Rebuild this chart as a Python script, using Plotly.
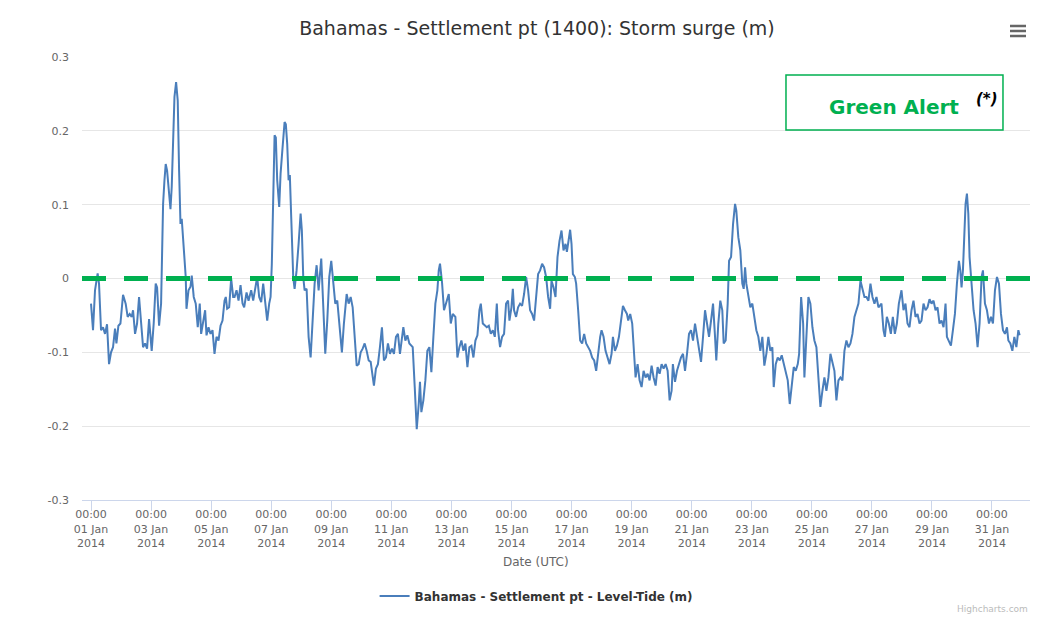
import pandas as pd
import plotly.graph_objects as go

# hours since 2014-01-01 00:00 UTC, storm surge (m)
hours = [
    0, 1.6, 3.2, 5.3, 6.4, 8, 9.6, 11.2, 12.8, 14.4, 16, 17.6, 19.2, 20.3, 21.9, 23.5,
    25.6, 27.7, 29.3, 30.9, 32.5, 33.6, 35.2, 36.8, 38.4, 40, 41.6, 43.2, 44.8, 46.4, 48.5,
    50.1, 51.7, 52.8, 54.4, 56, 57.6, 58.7, 59.7, 60.8, 61.9, 63.5, 64.5, 65.6, 66.7, 68,
    69.3, 70.4, 71.5, 72.5, 73.6, 74.7, 75.7, 76.3, 77.9, 79.5, 80.5, 82.1, 83.7, 85.3,
    86.9, 88, 89.6, 91.2, 92.3, 93.9, 95.5, 97.1, 98.7, 100.3, 101.9, 103.5, 105.1, 106.7,
    107.7, 108.8, 110.4, 112, 113.6, 114.7, 116.3, 117.9, 119.5, 121.1, 122.4,
    124.3, 125.9, 128, 129.6, 131.2, 132.8, 134.4, 136, 137.6, 139.2, 140.8, 142.4, 143.5,
    144.5, 145.6, 146.7, 147.7, 148.8, 150.4, 151.5, 153.1, 154.7, 155.7, 156.8, 157.9,
    158.9, 160, 161.6, 162.7, 164.3, 165.9, 167.5, 168.5, 169.6, 170.7, 172.3, 173.9,
    175.5, 177.1, 178.7, 180.3, 181.9, 184, 185.6, 187.2, 188.8, 190.4, 192, 193.6, 195.2,
    196.8, 198.4, 200.5, 202.1, 204.3, 205.9, 207.5, 209.1, 210.7, 212.3, 213.9, 215.5,
    217.1, 218.7, 220.3, 221.9, 223.5, 225.1, 226.1, 227.7, 229.3, 230.9, 232.5, 234.1,
    235.7, 237.3, 238.9, 240.5, 242.1, 243.7, 245.3, 246.9, 248.5,
    249.6, 251.2, 252.8, 254.4, 257.1, 258.7, 260.3, 261.9, 262.9, 264, 265.6, 267.2,
    268.8, 270.4, 272, 273.6, 275.2, 276.8, 277.9, 278.9, 280.5, 282.1, 283.7, 285.9,
    287.5, 289.1, 291.2, 292.8, 294.4, 296, 297.6, 299.2, 300.8, 302.4, 304, 305.6, 307.2,
    308.8, 310.4, 311.5, 313.1, 314.7, 316.3, 317.9, 319.5, 321.1, 322.7, 324.3, 325.3,
    326.9, 328.5, 330.1, 331.7, 333.3, 334.4, 336, 337.1, 338.1, 339.7, 341.3, 342.9,
    344.5, 346.1, 347.7, 349.3, 350.9, 352.5, 354.1, 355.7, 357.3, 358.9, 360.5, 362.1,
    363.7, 365.3, 366.9, 368, 369.6, 371.2, 372.8, 374.4,
    376, 377.6, 379.2, 380.3, 381.3, 382.9, 384, 385.1, 386.7, 387.7, 389.3, 390.9, 392.5,
    394.1, 395.7, 397.3, 398.9, 400.5, 402.1, 403.7, 405.3, 406.9, 408, 409.6, 411.2,
    412.8, 414.4, 416, 417.1, 418.7, 420.3, 421.9, 423.5, 425.1, 426.7, 428.3, 429.3,
    430.9, 432.5, 434.1, 435.2, 436.8, 438.4, 440, 441.6, 443.2, 444.8, 446.4, 448, 449.6,
    451.2, 452.8, 454.4, 456, 457.6, 459.2, 460.8, 462.4, 464, 465, 466.7, 468.3, 469.9,
    471.5, 473.1, 474.7, 476.3, 477.9, 479.5, 481.1, 482.7, 484.3, 485.9, 487.5, 489.1,
    490.7, 492.3, 493.9, 495.5, 497.1, 498.7, 499.7, 501.3, 502.9, 504.5,
    505.6, 507.2, 508.8, 509.9, 511.5, 513.1, 514.7, 515.7, 517.3, 518.9, 520.5, 521.6,
    522.7, 523.7, 525.3, 526.9, 528.5, 530.1, 531.7, 533.3, 534.9, 536.5, 538.1, 539.7,
    541.3, 542.9, 544.5, 545.6, 547.2, 548.8, 550.4, 552, 553.6, 555.2, 556.8, 558.4, 560,
    561.6, 563.2, 564.8, 565.9, 567.5, 569.1, 570.1, 571.7, 573.3, 574.9, 576.5, 578.1,
    579.7, 581.3, 582.9, 584.5, 586.1, 587.7, 589.3, 590.9, 592.5, 594.1, 595.7, 597.3,
    598.9, 600.5, 602.1, 603.7, 605.3, 606.9, 608.5, 610.1, 611.7, 613.3, 614.9, 616.5,
    618.1, 619.7, 621.3, 622.9, 624.5, 626.1, 627.7, 629.3,
    631.7, 633.3, 634.4, 636, 637.6, 639.2, 640.8, 642.4, 644, 645.6, 647.7, 649.3, 650.9,
    652.5, 654.1, 655.7, 657.3, 658.9, 660.5, 662.1, 663.7, 665.3, 666.9, 668.5, 670.1,
    671.7, 673.3, 674.9, 676.5, 678.1, 679.7, 681.3, 682.9, 684, 685.6, 687.2, 688.8,
    690.4, 692, 693.6, 694.7, 695.7, 696.8, 697.9, 698.9, 700, 701.1, 702.1, 703.7, 705.3,
    706.9, 708.5, 710.1, 711.7, 712.8, 714.4, 716, 717.6, 719.2, 720.8, 722.4, 724, 725.6,
    727.2, 728.8, 730.4, 732, 733.1, 734.7, 736.3, 737.9, 739.5, 741.1, 742.1,
]
surge = [
    -0.034, -0.070, -0.016, 0.007, -0.007, -0.070, -0.066, -0.075, -0.062, -0.116, -0.100,
    -0.093, -0.068, -0.088, -0.064, -0.061,
    -0.022, -0.034, -0.052, -0.048, -0.052, -0.043, -0.075, -0.061, -0.025, -0.061, -0.093,
    -0.088, -0.095, -0.055, -0.098,
    -0.061, -0.007, -0.012, -0.064, -0.034, 0.101, 0.133, 0.155, 0.146, 0.128, 0.094, 0.124,
    0.191, 0.246, 0.266,
    0.241, 0.146, 0.074, 0.081, 0.056, 0.020, 0.002, -0.041, -0.016, -0.011, 0.004, -0.025,
    -0.034, -0.066,
    -0.034, -0.075, -0.061, -0.043, -0.077, -0.066, -0.075, -0.070, -0.102, -0.079, -0.084,
    -0.064, -0.057, -0.030,
    -0.025, -0.041, -0.039, 0.000, -0.025, -0.025, -0.016, -0.030, -0.009, -0.034, -0.039,
    -0.019, -0.030, -0.016, -0.030, -0.016, 0.002, -0.025, -0.032, -0.007, -0.034, -0.057,
    -0.034, -0.025,
    0.020, 0.101, 0.194, 0.191, 0.133, 0.097, 0.142, 0.178, 0.212, 0.209, 0.182, 0.133,
    0.140, 0.083, 0.002, -0.014, 0.011, 0.047, 0.088, 0.065, 0.002, -0.016, -0.014, -0.079,
    -0.107, -0.057, -0.007, 0.018, -0.016, 0.027, -0.034, -0.102, -0.057, 0.002, 0.024,
    -0.007, -0.034,
    -0.030, -0.061, -0.100, -0.061, -0.021, -0.034, -0.025, -0.039, -0.075, -0.118, -0.116,
    -0.100,
    -0.095, -0.088, -0.098, -0.111, -0.113, -0.129, -0.145, -0.122, -0.116, -0.093, -0.066,
    -0.111,
    -0.107, -0.088, -0.102, -0.095, -0.102, -0.079, -0.075, -0.102, -0.079,
    -0.066, -0.084, -0.077, -0.088, -0.093, -0.147, -0.204, -0.170, -0.140, -0.181, -0.165,
    -0.138,
    -0.098, -0.093, -0.127, -0.079, -0.034, -0.016, 0.011, 0.020, -0.005, -0.043, -0.032,
    -0.021,
    -0.061, -0.048, -0.052, -0.107, -0.093, -0.084, -0.098, -0.088, -0.120, -0.093, -0.091,
    -0.107, -0.084,
    -0.077, -0.043, -0.034, -0.061, -0.064, -0.066, -0.064, -0.075, -0.070, -0.079, -0.034,
    -0.070,
    -0.093, -0.079, -0.075, -0.034, -0.030, -0.057, -0.039, -0.014, -0.043, -0.052, -0.039,
    -0.034,
    -0.037, -0.021, 0.002, -0.016, -0.043, -0.048, -0.057, -0.025, 0.006, 0.011, 0.020,
    0.015,
    0.002, -0.025, -0.041, -0.003, -0.012, -0.025, 0.029, 0.051,
    0.065, 0.038, 0.047, 0.036, 0.047, 0.066, 0.047, 0.006, 0.002, -0.007, -0.043, -0.084,
    -0.088,
    -0.075, -0.088, -0.093, -0.098, -0.107, -0.111, -0.125, -0.098, -0.079, -0.070, -0.079,
    -0.098,
    -0.107, -0.116, -0.102, -0.079, -0.098, -0.091, -0.079, -0.057, -0.037, -0.043, -0.048,
    -0.057,
    -0.048, -0.061, -0.107, -0.134, -0.116, -0.138, -0.147, -0.125, -0.134, -0.129, -0.138,
    -0.118, -0.134,
    -0.145, -0.120, -0.129, -0.116, -0.122, -0.116, -0.125, -0.165, -0.152, -0.116, -0.140,
    -0.125, -0.116,
    -0.107, -0.102, -0.125, -0.102, -0.075, -0.070, -0.084, -0.061, -0.079, -0.093, -0.113,
    -0.079,
    -0.043, -0.061, -0.079, -0.057, -0.034, -0.079, -0.111, -0.061, -0.030, -0.043,
    -0.088, -0.084, -0.034, 0.024, 0.029, 0.074, 0.101, 0.092, 0.056, 0.038, -0.007, -0.014,
    0.015, -0.007, -0.021, -0.039, -0.034, -0.052, -0.070, -0.079, -0.098, -0.079, -0.118,
    -0.102,
    -0.079, -0.098, -0.093, -0.147, -0.116, -0.107, -0.111, -0.104, -0.116, -0.125, -0.138,
    -0.170, -0.147,
    -0.120, -0.125, -0.116, -0.102, -0.025, -0.061, -0.134, -0.079, -0.025, -0.034, -0.066,
    -0.084,
    -0.093, -0.134, -0.174, -0.152, -0.134, -0.152, -0.134, -0.102, -0.116, -0.125, -0.165,
    -0.138,
    -0.134, -0.138, -0.098, -0.084, -0.093, -0.088, -0.075, -0.052, -0.043, -0.034, -0.003,
    -0.016,
    -0.025, -0.025, -0.030, -0.007, -0.025, -0.034, -0.025, -0.039,
    -0.034, -0.070, -0.079, -0.052, -0.061, -0.075, -0.052, -0.075, -0.061, -0.034, -0.016,
    -0.043, -0.034,
    -0.061, -0.066, -0.043, -0.030, -0.052, -0.048, -0.061, -0.057, -0.034, -0.043, -0.039,
    -0.028,
    -0.034, -0.030, -0.043, -0.039, -0.061, -0.057, -0.066, -0.034, -0.079, -0.086, -0.091,
    -0.070,
    -0.048, -0.007, 0.024, 0.011, -0.012, 0.011, 0.065, 0.101, 0.115, 0.088, 0.029, -0.012,
    -0.043,
    -0.061, -0.093, -0.061, 0.002, 0.011, -0.034, -0.043, -0.061, -0.052, -0.061, -0.016,
    0.002, -0.007,
    -0.048, -0.070, -0.075, -0.066, -0.084, -0.088, -0.098, -0.079, -0.093, -0.070, -0.077,
]

ytick_vals = [0.3, 0.2, 0.1, 0, -0.1, -0.2, -0.3]
ytick_labels = ['0.3', '0.2', '0.1', '0', '-0.1', '-0.2', '-0.3']
xtick_days = pd.date_range('2014-01-01', '2014-01-31', freq='2D')

start = pd.Timestamp('2014-01-01 00:00')
times = [start + pd.Timedelta(hours=h) for h in hours]

GREEN = '#00b050'
BLUE = '#4a7ebb'

fig = go.Figure()
fig.add_trace(go.Scatter(x=times, y=surge, mode='lines',
                         name='<b>Bahamas - Settlement pt - Level-Tide (m)</b>',
                         line=dict(color=BLUE, width=2)))

xtick_text = [d.strftime('00:00<br>%d Jan<br>%Y') for d in xtick_days]

# the page body adds an 8px offset, so margins are shifted up/left by 8px
fig.update_layout(
    width=1059, height=618,
    paper_bgcolor='white', plot_bgcolor='white',
    margin=dict(l=74, r=37, t=49, b=126, autoexpand=False),
    font=dict(family='DejaVu Sans', color='#666666', size=11),
    title=dict(text='Bahamas - Settlement pt (1400): Storm surge (m)',
               x=0.4995, xanchor='center', y=0.9676, yanchor='middle',
               font=dict(family='DejaVu Sans', size=19, color='#333333')),
    showlegend=True,
    legend=dict(orientation='h', x=0.479, xanchor='center', y=-0.2167, yanchor='middle',
                font=dict(family='DejaVu Sans', size=12, color='#333333'),
                itemwidth=30),
    xaxis=dict(range=[start - pd.Timedelta(hours=7.2), start + pd.Timedelta(hours=750.4)],
               tickvals=list(xtick_days), ticktext=xtick_text, tickangle=0,
               ticks='outside', ticklen=10, tickcolor='#ccd6eb',
               showline=True, linecolor='#ccd6eb', linewidth=1,
               showgrid=False, zeroline=False, automargin=False,
               ticklabelstandoff=-6,
               tickfont=dict(size=11, color='#666666')),
    yaxis=dict(range=[-0.3, 0.3], tickvals=ytick_vals, ticktext=ytick_labels,
               showgrid=True, gridcolor='#e6e6e6', gridwidth=1, zeroline=False,
               ticks='', ticklabelstandoff=12, automargin=False,
               tickfont=dict(size=11, color='#666666')),
)

# y=0 alert threshold line
fig.add_shape(type='line', xref='paper', yref='y', x0=0, x1=1, y0=0, y1=0,
              line=dict(color=GREEN, width=5, dash='24px,18px'), layer='above')

# alert box
fig.add_shape(type='rect', xref='paper', yref='paper', x0=0.7426, x1=0.9715,
              y0=0.8352, y1=0.9594, line=dict(color=GREEN, width=1.5),
              fillcolor='white', layer='above')
fig.add_annotation(xref='paper', yref='paper', x=0.857, y=0.887, showarrow=False,
                   text='<b>Green Alert</b>', xanchor='center', yanchor='middle',
                   font=dict(family='DejaVu Sans', size=20, color=GREEN))
fig.add_annotation(xref='paper', yref='paper', x=0.9545, y=0.905, showarrow=False,
                   text='<b><i>(*)</i></b>', xanchor='center', yanchor='middle',
                   font=dict(family='DejaVu Sans', size=15, color='#000000'))

# axis title
fig.add_annotation(xref='paper', yref='paper', x=0.479, y=-0.14, showarrow=False,
                   text='Date (UTC)', xanchor='center', yanchor='middle',
                   font=dict(family='DejaVu Sans', size=12, color='#666666'))

# export menu icon
for yy in [1.070, 1.0587, 1.0474]:
    fig.add_shape(type='line', xref='paper', yref='paper', x0=0.9789, x1=0.9958,
                  y0=yy, y1=yy, line=dict(color='#666666', width=2.5))

# credits
fig.add_annotation(xref='paper', yref='paper', x=1.0, y=-0.246, showarrow=False,
                   text='Highcharts.com', xanchor='right', yanchor='middle',
                   font=dict(family='DejaVu Sans', size=9, color='#bbbbbb'))

fig.write_html('out.html')
